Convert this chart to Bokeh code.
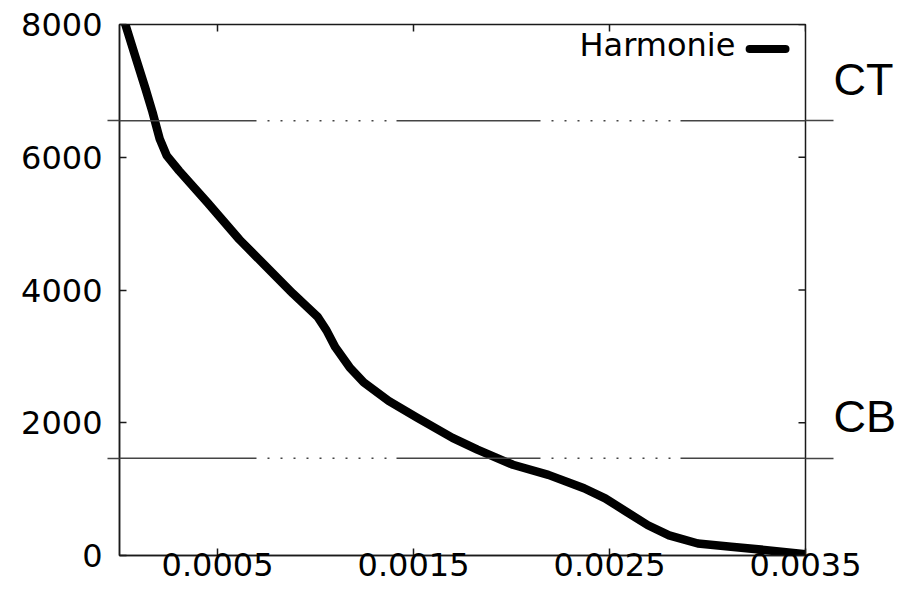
import math
from bokeh.plotting import figure
from bokeh.models import LinearAxis, FixedTicker, Range1d, Label, Arrow, PrintfTickFormatter, Span
from bokeh.embed import file_html
from bokeh.resources import INLINE

# ---- data ----
series_name = "Harmonie"
x_vals = [0.000030, 0.000078, 0.000132, 0.000168, 0.000205, 0.000241, 0.000304, 0.000449,
          0.000612, 0.000739, 0.000884, 0.000957, 0.001011, 0.001056, 0.001101, 0.001174,
          0.001246, 0.001373, 0.001518, 0.001699, 0.001826, 0.002007, 0.002188, 0.002370,
          0.002478, 0.002587, 0.002696, 0.002804, 0.002951, 0.003120, 0.003290, 0.003500]
y_vals = [8000, 7544, 7038, 6684, 6278, 6025, 5797, 5316,
          4759, 4380, 3949, 3747, 3595, 3392, 3139, 2835,
          2608, 2329, 2076, 1772, 1595, 1367, 1215, 1013,
          861, 658, 456, 304, 181, 132, 84, 20]

x_ticks = [0.0005, 0.0015, 0.0025, 0.0035]
y_ticks = [0, 2000, 4000, 6000, 8000]
x_limits = [0, 0.0035]
y_limits = [0, 8000]

ref_names = ["CT", "CB"]
ref_levels = [6550, 1465]

legend_text_x = 0.003142
legend_text_y = 7690
legend_line_x = [0.003215, 0.003398]
legend_line_y = 7630

AXIS_COLOR = "#1a1a1a"
REF_COLOR = "#444444"
TICK_FONT = "DejaVu Sans"

p = figure(width=899, height=583, output_backend="svg", toolbar_location=None,
           x_range=Range1d(*x_limits), y_range=Range1d(*y_limits),
           x_axis_location=None, y_axis_location=None,
           min_border_left=119, min_border_right=91, min_border_top=24,
           min_border_bottom=28)
p.grid.grid_line_color = None
p.outline_line_color = AXIS_COLOR
p.outline_line_width = 1.5
p.background_fill_color = "white"
p.border_fill_color = "white"

# bottom axis
xb = LinearAxis(ticker=FixedTicker(ticks=x_ticks), formatter=PrintfTickFormatter(format="%.4f"),
                axis_line_color=AXIS_COLOR, axis_line_width=1.5,
                major_tick_line_color=AXIS_COLOR, major_tick_line_width=1.5,
                major_tick_in=7, major_tick_out=0, minor_tick_in=0, minor_tick_out=0,
                major_label_standoff=-3, major_label_text_font=TICK_FONT,
                major_label_text_font_size="32px", major_label_text_color="black")
p.add_layout(xb, "below")

# left axis (minor ticks = outer stubs of the CT / CB lines)
yl = LinearAxis(ticker=FixedTicker(ticks=y_ticks, minor_ticks=ref_levels),
                axis_line_color=AXIS_COLOR, axis_line_width=1.5,
                major_tick_line_color=AXIS_COLOR, major_tick_line_width=1.5,
                major_tick_in=7, major_tick_out=0,
                minor_tick_line_color=REF_COLOR, minor_tick_line_width=1.4,
                minor_tick_in=0, minor_tick_out=12,
                major_label_standoff=5, major_label_text_font=TICK_FONT,
                major_label_text_font_size="32px", major_label_text_color="black")
p.add_layout(yl, "left")

# right axis: CT / CB names and outer stubs of the reference lines
yr = LinearAxis(ticker=FixedTicker(ticks=ref_levels),
                major_label_overrides={lvl: name + "\n" for lvl, name in zip(ref_levels, ref_names)},
                axis_line_color=None,
                major_tick_line_color=REF_COLOR, major_tick_line_width=1.4,
                major_tick_in=0, major_tick_out=28, minor_tick_in=0, minor_tick_out=0,
                major_label_standoff=0, major_label_text_font="Liberation Sans",
                major_label_text_font_size="45px", major_label_text_color="black",
                major_label_text_line_height=1.62)
p.add_layout(yr, "right")

# inward ticks on top and right border
p.ray(x=x_ticks, y=[y_limits[1]] * len(x_ticks), length=7, length_units="screen",
      angle=-math.pi / 2, line_color=AXIS_COLOR, line_width=1.5)
p.ray(x=[x_limits[1]] * len(y_ticks), y=y_ticks, length=7, length_units="screen",
      angle=math.pi, line_color=AXIS_COLOR, line_width=1.5)

# reference levels (CT / CB): solid - dotted - solid - dotted - solid
dash = [137, 11] + [2, 11] * 9 + [2, 10] + [144, 11] + [2, 11] * 9 + [2, 10] + [400, 10]
for lvl in ref_levels:
    p.add_layout(Span(location=lvl, dimension="width", line_color=REF_COLOR, line_width=1.4,
                      line_dash=" ".join(str(d) for d in dash)))

# data curve
p.line(x_vals, y_vals, line_width=8.5, line_color="black", line_join="round", line_cap="round")

# key (gnuplot-style: text then sample)
p.add_layout(Label(x=legend_text_x, y=legend_text_y, text=series_name,
                   text_font=TICK_FONT, text_font_size="32px",
                   text_align="right", text_baseline="alphabetic", text_color="black"))
p.add_layout(Arrow(end=None, x_start=legend_line_x[0], x_end=legend_line_x[1],
                   y_start=legend_line_y, y_end=legend_line_y,
                   line_color="black", line_width=8, line_cap="round"))

open("out.html", "w").write(file_html(p, INLINE))
